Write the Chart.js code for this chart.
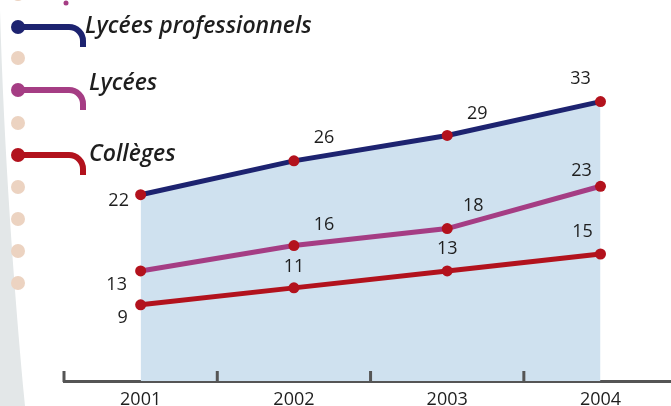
<!DOCTYPE html>
<html>
<head>
<meta charset="utf-8">
<script src="https://cdn.jsdelivr.net/npm/chart.js@4"></script>
<style>
  html, body { margin: 0; padding: 0; background: #fff; overflow: hidden; }
  #lineChart { display: block; }
</style>
</head>
<body>
<canvas id="lineChart" width="671" height="406"></canvas>
<script>
const years = [2001, 2002, 2003, 2004];
const seriesNames = ['Lycées professionnels', 'Lycées', 'Collèges'];
const lyceesPro = [22, 26, 29, 33];
const lycees = [13, 16, 18, 23];
const colleges = [9, 11, 13, 15];

const lineColors = ['#1d2370', '#a53d84', '#b2121d'];
const pointColor = '#b3121d';
const textColor = '#1e1e1e';

// label offsets from each point (dx, dy of the label centre)
const labelOffsets = [
  [[-22, 6], [30, -23], [30, -22], [-20, -23]],
  [[-24, 14], [30, -21], [26, -23], [-19, -15]],
  [[-18, 13], [0, -21], [0, -22], [-18, -22]]
];

const decorations = {
  id: 'decorations',
  beforeDraw(chart) {
    const ctx = chart.ctx;
    ctx.save();
    // grey band on the left
    ctx.fillStyle = '#e3e7e8';
    ctx.beginPath();
    ctx.moveTo(0, 10);
    ctx.bezierCurveTo(4, 150, 14, 290, 25, 406);
    ctx.lineTo(0, 406);
    ctx.closePath();
    ctx.fill();
    // beige dots
    ctx.fillStyle = '#ecd3c1';
    [-6, 58, 123, 187, 219, 251, 283].forEach(y => {
      ctx.beginPath();
      ctx.arc(18, y, 7, 0, Math.PI * 2);
      ctx.fill();
    });
    ctx.fillStyle = '#a53d84';
    ctx.beginPath();
    ctx.arc(66, 3, 2.5, 0, Math.PI * 2);
    ctx.fill();
    // legend
    const rows = [[27, 85, 33], [90, 89, 90], [155, 89, 161]];
    rows.forEach((r, i) => {
      const y = r[0];
      ctx.strokeStyle = lineColors[i];
      ctx.fillStyle = lineColors[i];
      ctx.lineWidth = 6;
      ctx.beginPath();
      ctx.moveTo(18, y);
      ctx.lineTo(69, y);
      ctx.arc(69, y + 14, 14, -Math.PI / 2, 0);
      ctx.lineTo(83, y + 20);
      ctx.stroke();
      ctx.beginPath();
      ctx.arc(18, y, 7, 0, Math.PI * 2);
      ctx.fill();
      ctx.fillStyle = textColor;
      ctx.font = 'italic 600 23px "Open Sans"';
      ctx.textAlign = 'left';
      ctx.textBaseline = 'alphabetic';
      ctx.fillText(seriesNames[i], r[1], r[2]);
    });
    ctx.restore();
  },
  afterDraw(chart) {
    // small upward marks between the years
    const ctx = chart.ctx;
    const x = chart.scales.x;
    const bottom = chart.chartArea.bottom;
    ctx.save();
    ctx.strokeStyle = '#555';
    ctx.lineWidth = 3;
    years.forEach(yr => {
      const px = x.getPixelForValue(yr - 0.5);
      ctx.beginPath();
      ctx.moveTo(px, bottom + 1);
      ctx.lineTo(px, bottom - 10);
      ctx.stroke();
    });
    ctx.restore();
  },
  afterDatasetsDraw(chart) {
    const ctx = chart.ctx;
    ctx.save();
    ctx.fillStyle = textColor;
    ctx.font = '18px "Open Sans"';
    ctx.textAlign = 'center';
    ctx.textBaseline = 'middle';
    chart.data.datasets.forEach((ds, di) => {
      chart.getDatasetMeta(di).data.forEach((pt, i) => {
        const off = labelOffsets[di][i];
        ctx.fillText(String(ds.data[i].y), pt.x + off[0], pt.y + off[1]);
      });
    });
    ctx.restore();
  }
};

function makeSet(label, values, color, fill) {
  return {
    label: label,
    data: values.map((v, i) => ({ x: years[i], y: v })),
    borderColor: color,
    borderWidth: 5,
    backgroundColor: fill ? '#cfe1ef' : color,
    fill: fill ? 'origin' : false,
    tension: 0,
    pointRadius: 5.5,
    pointBorderWidth: 0,
    pointBackgroundColor: pointColor,
    pointBorderColor: pointColor
  };
}

new Chart(document.getElementById('lineChart'), {
  type: 'line',
  data: {
    datasets: [
      makeSet(seriesNames[0], lyceesPro, lineColors[0], true),
      makeSet(seriesNames[1], lycees, lineColors[1], false),
      makeSet(seriesNames[2], colleges, lineColors[2], false)
    ]
  },
  options: {
    responsive: false,
    animation: false,
    layout: { autoPadding: false, padding: { left: 64, top: 0, right: 0, bottom: 0 } },
    plugins: {
      legend: { display: false },
      tooltip: { enabled: false },
      filler: { drawTime: 'beforeDatasetsDraw' }
    },
    scales: {
      y: { display: false, min: 0, max: 45 },
      x: {
        type: 'linear',
        min: 2000.5,
        max: 2004.46,
        grid: { display: false, drawTicks: false },
        border: { display: true, color: '#555', width: 3 },
        ticks: {
          stepSize: 1,
          includeBounds: false,
          color: textColor,
          font: { family: 'Open Sans', size: 18 },
          padding: 8,
          maxRotation: 0,
          callback: v => String(v)
        },
        afterFit(scale) { scale.height = 25; }
      }
    }
  },
  plugins: [decorations]
});
</script>
</body>
</html>
